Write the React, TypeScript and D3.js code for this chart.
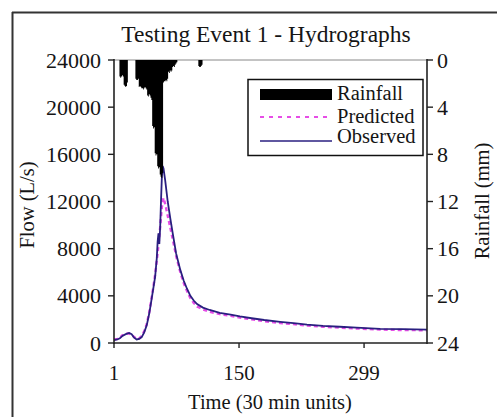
import React from "react";
import * as d3 from "d3";

// ---- Data ----
const flowTicks = [0, 4000, 8000, 12000, 16000, 20000, 24000];
const rainTicks = [0, 4, 8, 12, 16, 20, 24];
const timeTicks = [1, 150, 299];

// Rainfall per 30-min step, starting at t = 1
const rainfallMm = [
  0, 0, 0, 0, 0, 0, 0,
  1.4, 1.5, 1.4, 1.3, 1.4,
  2.1, 2.2, 2.3, 2.2, 1.9,
  0, 0, 0, 0, 0, 0, 0, 0, 0,
  1.6, 1.7, 1.7, 1.6,
  2.3, 2.2, 2.3, 2.4,
  2.4, 2.5, 2.4, 2.3, 2.4, 2.5,
  3.0, 3.1, 2.9, 3.0, 3.2, 3.4,
  5.6, 5.8, 5.7,
  7.9, 8.1, 8.0,
  9.0, 9.2, 9.1,
  9.7, 9.9, 10.0, 9.6,
  1.9, 1.8, 1.8, 1.7, 1.8, 1.6,
  1.0, 1.1, 0.9, 1.0, 0.9,
  0.6, 0.5, 0.6, 0.4, 0.3, 0.2,
  0, 0, 0, 0, 0, 0, 0, 0, 0, 0, 0, 0, 0, 0, 0, 0, 0, 0, 0, 0, 0, 0, 0, 0, 0,
  0.5, 0.6, 0.6, 0.5, 0.4,
  0,
];

const observedTime = [
  1, 5, 8, 11, 15, 19, 22, 25, 28, 31, 34, 37, 40, 43, 46, 48, 50, 52, 53, 54, 55, 56, 57, 58, 59, 60,
  62, 65, 68, 71, 75, 80, 84, 88, 92, 96, 100, 107, 115, 127, 140, 151, 165, 180, 199, 215, 231, 250,
  270, 290, 318, 345, 374,
];
const observedFlow = [
  250, 300, 400, 600, 750, 850, 750, 450, 300, 350, 500, 900, 1500, 2500, 3800, 4700, 5600, 7200, 8600,
  9300, 8400, 9800, 12000, 14000, 15000, 14800, 13800, 12000, 10600, 9300, 7600, 6200, 5300, 4600, 4000,
  3600, 3300, 3000, 2800, 2550, 2400, 2250, 2100, 1950, 1800, 1680, 1550, 1450, 1380, 1300, 1200, 1170,
  1130,
];

const predictedTime = [
  1, 5, 8, 11, 15, 19, 22, 25, 28, 31, 34, 37, 40, 43, 46, 48, 50, 52, 54, 56, 58, 60, 62, 65, 68, 71,
  75, 80, 84, 88, 92, 96, 100, 107, 115, 127, 140, 151, 165, 180, 199, 215, 231, 250, 270, 290, 318, 345,
  374,
];
const predictedFlow = [
  300, 350, 450, 650, 800, 800, 700, 500, 350, 400, 600, 1000, 1600, 2600, 3900, 4800, 5800, 7000, 8300,
  9800, 11500, 12300, 11800, 10800, 9800, 8800, 7400, 6000, 5100, 4400, 3800, 3400, 3100, 2850, 2650,
  2450, 2300, 2150, 2000, 1850, 1700, 1600, 1480, 1380, 1300, 1230, 1140, 1100, 1080,
];

const W = 497;
const H = 417;
const FONT = "'Liberation Serif', 'Times New Roman', serif";

export default function App() {
  const left = 114, right = 427, top = 60, bottom = 343;
  const x = d3.scaleLinear().domain([1, 374]).range([left, right]);
  const yFlow = d3.scaleLinear().domain([0, 24000]).range([bottom, top]);
  const yRain = d3.scaleLinear().domain([0, 24]).range([top, bottom]);

  const obs = observedTime.map((t, i) => [t, observedFlow[i]] as [number, number]);
  const pred = predictedTime.map((t, i) => [t, predictedFlow[i]] as [number, number]);
  const line = d3
    .line<[number, number]>()
    .x((d) => x(d[0]))
    .y((d) => yFlow(d[1]));

  // rainfall as one stepped shape hanging from the top axis (one step per time unit)
  const rainSteps: [number, number][] = [];
  rainfallMm.forEach((mm, i) => {
    const t = i + 1;
    rainSteps.push([t - 0.5, mm]);
    rainSteps.push([t + 0.5, mm]);
  });
  const rainArea = d3
    .area<[number, number]>()
    .x((d) => x(d[0]))
    .y0(() => yRain(0))
    .y1((d) => yRain(d[1]));

  const axisColor = "#222";
  const txt = "#151515";

  return (
    <svg
      width={W}
      height={H}
      style={{ position: "absolute", left: 0, top: 0, background: "#fff" }}
      fontFamily={FONT}
    >
      <rect x={0} y={0} width={W} height={H} fill="#fff" />
      {/* outer frame (cropped) */}
      <line x1={12} y1={12.5} x2={W} y2={12.5} stroke="#333" strokeWidth={2} />
      <line x1={12.5} y1={12} x2={12.5} y2={H} stroke="#333" strokeWidth={2} />

      {/* title */}
      <text x={266} y={42} textAnchor="middle" fontSize={23.5} fill={txt}>
        Testing Event 1 - Hydrographs
      </text>

      {/* plot top border */}
      <line x1={left} y1={top} x2={right} y2={top} stroke="#888" strokeWidth={1} />

      {/* flow lines */}
      <path d={line(pred) || ""} fill="none" stroke="#e64de6" strokeWidth={2.4} strokeDasharray="4,3" />
      <path d={line(obs) || ""} fill="none" stroke="#2a1f80" strokeWidth={1.8} />

      {/* rainfall */}
      <path d={rainArea(rainSteps) || ""} fill="#000" stroke="none" />

      {/* left axis */}
      <line x1={left} y1={top - 1} x2={left} y2={bottom + 1} stroke={axisColor} strokeWidth={1.6} />
      {flowTicks.map((v) => (
        <g key={v}>
          <line x1={left - 6} y1={yFlow(v)} x2={left} y2={yFlow(v)} stroke={axisColor} strokeWidth={1.4} />
          <text x={left - 13} y={yFlow(v) + 7.5} textAnchor="end" fontSize={22} fill={txt}>
            {v}
          </text>
        </g>
      ))}

      {/* right axis */}
      <line x1={right} y1={top - 1} x2={right} y2={bottom + 1} stroke={axisColor} strokeWidth={1.6} />
      {rainTicks.map((v) => (
        <g key={v}>
          <line x1={right} y1={yRain(v)} x2={right + 6} y2={yRain(v)} stroke={axisColor} strokeWidth={1.4} />
          <text x={right + 10} y={yRain(v) + 7.5} textAnchor="start" fontSize={22} fill={txt}>
            {v}
          </text>
        </g>
      ))}

      {/* bottom axis */}
      <line x1={left} y1={bottom} x2={right} y2={bottom} stroke={axisColor} strokeWidth={1.6} />
      {timeTicks.map((v) => (
        <g key={v}>
          <line x1={x(v)} y1={bottom} x2={x(v)} y2={bottom + 5} stroke={axisColor} strokeWidth={1.4} />
          <text x={x(v)} y={380} textAnchor="middle" fontSize={21} fill={txt}>
            {v}
          </text>
        </g>
      ))}

      {/* axis titles */}
      <text x={270} y={409} textAnchor="middle" fontSize={20.5} fill={txt}>
        Time (30 min units)
      </text>
      <text transform={`translate(34,205) rotate(-90)`} textAnchor="middle" fontSize={20.5} fill={txt}>
        Flow (L/s)
      </text>
      <text transform={`translate(489,201) rotate(-90)`} textAnchor="middle" fontSize={20.5} fill={txt}>
        Rainfall (mm)
      </text>

      {/* legend */}
      <rect x={248} y={79.5} width={175} height={76} fill="#fff" stroke="#111" strokeWidth={1.5} />
      <rect x={260} y={89} width={72} height={11} fill="#000" />
      <text x={337} y={100} fontSize={20.5} fill={txt}>Rainfall</text>
      <line x1={260} y1={117} x2={332} y2={117} stroke="#e64de6" strokeWidth={2.2} strokeDasharray="4,5" />
      <text x={337} y={123} fontSize={20.5} fill={txt}>Predicted</text>
      <line x1={260} y1={141} x2={332} y2={141} stroke="#2a1f80" strokeWidth={1.6} />
      <text x={337} y={143} fontSize={20.5} fill={txt}>Observed</text>
    </svg>
  );
}
